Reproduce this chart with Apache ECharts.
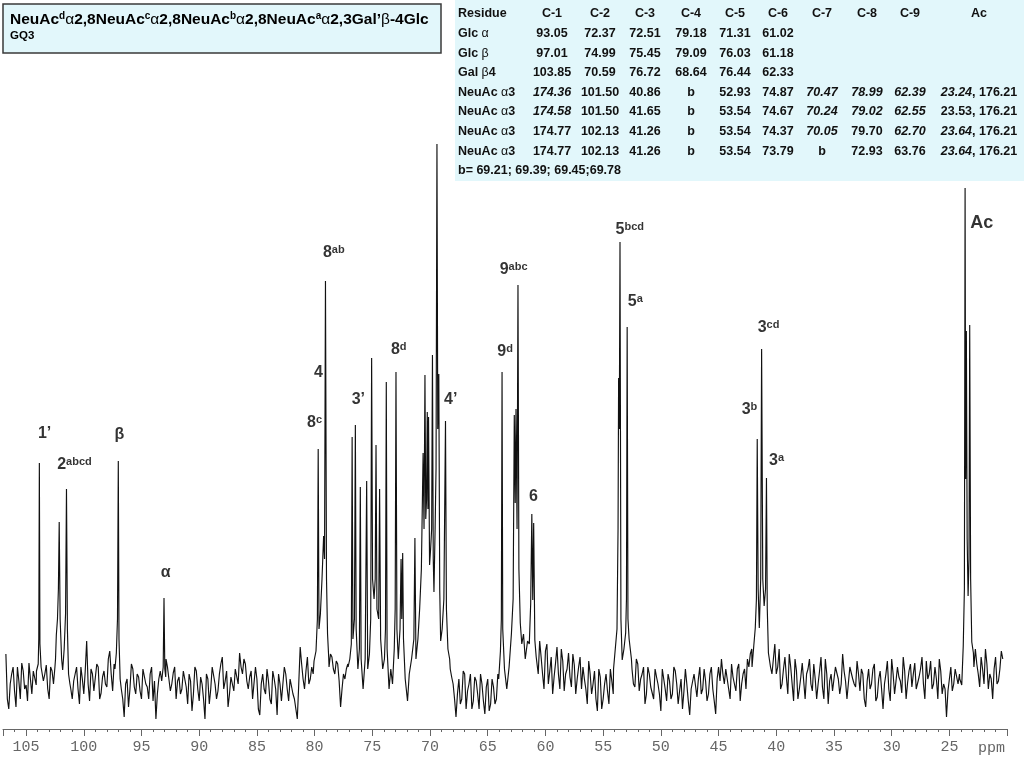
<!DOCTYPE html>
<html><head><meta charset="utf-8">
<script src="https://cdn.jsdelivr.net/npm/echarts@6/dist/echarts.min.js"></script>
<style>html,body{margin:0;padding:0;background:#fff}#c{width:1024px;height:768px}</style>
</head><body><div id="c"></div><script>
const FONT = '"Liberation Sans", Arial, sans-serif';
const MONO = '"Liberation Mono", "DejaVu Sans Mono", monospace';

const noiseStartPpm = 106.75, noiseStepPpm = 0.25;
const baselineNoise = [
  75,20,55,38,62,30,58,44,66,35,60,70,62,48,64,30,58,62,80,60,
  70,240,60,30,55,40,62,35,88,28,55,40,62,36,58,42,78,38,55,60,
  58,12,50,40,60,35,52,30,58,42,55,28,10,50,48,60,62,38,56,30,
  52,40,60,25,48,35,58,28,45,10,50,40,62,30,55,72,48,22,52,38,
  60,76,55,65,40,58,30,50,14,55,35,48,25,50,14,45,30,55,28,48,
  30,10,82,50,58,45,62,68,75,80,85,80,62,72,55,65,22,55,60,70,
  60,60,60,60,60,60,60,60,60,60,60,60,60,60,60,60,60,60,60,60,
  60,60,60,60,60,60,60,60,60,60,60,60,60,60,60,45,12,50,30,55,
  38,55,28,48,20,45,15,50,25,42,30,50,50,50,50,50,50,50,50,50,
  80,80,80,80,70,88,55,78,45,72,52,82,40,68,55,76,42,64,50,72,
  62,40,68,35,58,18,52,30,55,25,48,60,60,60,60,60,60,60,42,65,
  50,62,35,55,40,60,45,18,60,28,48,35,58,25,50,38,45,14,40,55,
  50,35,60,28,55,40,15,62,70,45,58,30,52,38,65,45,60,70,75,60,
  60,60,60,60,60,60,70,55,80,45,72,35,62,28,58,40,66,30,60,45,
  65,30,58,42,70,25,55,40,62,35,75,48,28,60,45,68,38,55,22,60,
  45,65,32,58,20,55,40,70,35,62,48,72,30,58,42,66,38,60,45,68,
  55,40,62,30,58,45,12,50,38,60,45,60,60,60,60,60,80,55,72,45,
  65,55,30,72,48,78
];
// ... and the in-between samples, every 0.25 ppm from 106.625 ppm
const midStartPpm = 106.625;
const baselineNoiseMid = [
  30,45,62,22,48,66,40,28,50,58,44,65,70,55,40,62,45,70,85,65,
  65,90,40,48,62,25,50,58,45,60,38,65,30,52,45,70,55,65,62,70,
  30,45,22,65,42,55,38,60,45,30,62,48,35,58,40,70,50,45,62,48,
  35,58,42,55,18,62,40,52,30,55,25,62,45,38,65,40,58,35,45,60,
  45,62,70,48,52,30,62,20,45,40,60,30,58,40,55,28,62,40,50,35,
  20,45,65,40,72,50,55,75,90,85,95,90,75,60,68,48,40,50,65,70,
  60,60,60,60,60,60,60,60,60,60,60,60,60,60,60,60,60,60,60,60,
  60,60,60,60,60,60,60,60,60,60,60,60,60,60,52,30,35,25,58,20,
  45,20,52,35,55,28,42,18,50,25,55,50,50,50,50,50,50,50,50,50,
  80,80,80,80,55,72,40,85,58,35,66,55,80,38,60,52,75,35,62,40,
  50,25,55,45,30,60,20,45,38,60,35,60,60,60,60,60,60,45,70,38,
  55,25,62,42,30,52,35,60,40,55,30,62,45,38,20,60,28,40,55,32,
  62,40,48,35,62,28,50,48,55,60,40,65,45,60,28,55,40,62,80,60,
  60,60,60,60,60,55,85,62,40,60,52,75,45,70,30,52,48,55,70,38,
  50,45,72,30,55,48,38,62,50,45,58,30,62,50,42,55,60,30,48,40,
  60,28,50,40,45,68,28,55,48,52,36,58,46,65,55,40,52,72,30,50,
  68,45,50,70,35,40,38,62,45,62,55,60,60,60,60,62,65,42,60,80,
  40,50,60,45,60,70
];
// ---- resonance groups [ppm, intensity]
const peak1p = [[104.10,58],[103.95,65],[103.90,90],[103.85,266],[103.80,85],[103.70,62],[103.60,55]];
const peak2 = [[102.45,70],[102.38,94],[102.28,110],[102.20,140],[102.13,207],[102.05,110],[101.92,70],[101.83,59],[101.70,80],[101.58,115],[101.50,240],[101.42,100],[101.32,55],[101.20,45]];
const peakBeta = [[97.30,60],[97.18,76],[97.08,110],[97.01,268],[96.95,90],[96.85,50],[96.75,40]];
const peakAlpha = [[93.20,48],[93.12,62],[93.05,131],[92.98,60],[92.90,52]];
const peak8 = [[80.05,68],[79.88,78],[79.76,110],[79.69,280],[79.62,100],[79.50,115],[79.36,150],[79.22,193],[79.14,170],[79.06,448],[78.97,150],[78.88,95],[78.78,72]];
const peakGroup70 = [[77.10,62],[76.95,70],[76.82,85],[76.75,292],[76.68,90],[76.55,110],[76.47,304],[76.40,100],[76.25,60],[76.12,80],[76.04,242],[75.97,70],[75.80,40],[75.62,70],[75.49,248],[75.40,60],[75.25,75],[75.14,110],[75.06,371],[74.98,150],[74.85,130],[74.75,150],[74.68,284],[74.60,120],[74.45,110],[74.37,240],[74.28,90],[74.10,60],[73.95,70],[73.86,100],[73.79,347],[73.72,80],[73.55,40],[73.40,60],[73.25,45],[73.10,80],[73.02,120],[72.95,357],[72.87,100],[72.75,70],[72.60,100],[72.51,170],[72.45,110],[72.37,176],[72.30,90],[72.15,50],[71.95,28],[71.80,55],[71.60,70],[71.40,90],[71.31,191],[71.22,70],[71.05,90],[70.90,120],[70.75,160],[70.66,230],[70.60,276],[70.52,200],[70.44,354],[70.37,210],[70.30,230],[70.24,317],[70.18,220],[70.13,312],[70.04,164],[69.95,180],[69.86,200],[69.79,374],[69.72,170],[69.66,137],[69.56,200],[69.48,260],[69.40,585],[69.33,300],[69.24,355],[69.16,140],[69.08,88],[68.95,100],[68.80,130],[68.66,308],[68.58,120],[68.45,80],[68.30,70]];
const peak9 = [[64.05,50],[63.90,78],[63.82,110],[63.76,357],[63.70,100],[63.55,60],[63.35,40],[63.15,62],[62.95,95],[62.80,130],[62.70,314],[62.62,226],[62.55,320],[62.46,200],[62.38,444],[62.30,160],[62.18,106],[62.05,85],[61.90,95],[61.75,70],[61.55,88],[61.40,85],[61.28,125],[61.18,215],[61.10,129],[61.02,206],[60.92,89],[60.80,72]];
const peak5 = [[54.10,60],[53.95,80],[53.80,100],[53.71,200],[53.66,351],[53.60,300],[53.54,487],[53.46,110],[53.35,69],[53.20,80],[53.05,96],[52.98,130],[52.92,402],[52.85,110],[52.75,90],[52.55,70]];
const peak3 = [[42.10,62],[41.95,83],[41.82,101],[41.72,130],[41.65,290],[41.57,140],[41.47,101],[41.35,150],[41.27,380],[41.17,150],[41.05,123],[40.93,140],[40.85,251],[40.78,120],[40.68,76],[40.50,62]];
const peakAc = [[24.10,50],[23.93,44],[23.80,83],[23.70,140],[23.64,541],[23.59,250],[23.53,398],[23.46,190],[23.38,133],[23.30,170],[23.24,404],[23.16,150],[23.06,87],[22.92,76]];

// ---- peak annotations [text, superscript, ppm, intensity]
const peakLabels = [
  ['1’','',103.40,295], ['2','abcd',100.81,264], ['β','',96.92,294], ['α','',92.90,156],
  ['8','ab',78.34,476], ['4','',79.67,356], ['8','c',80.01,306], ['3’','',76.21,329],
  ['8','d',72.71,379], ['4’','',68.21,329], ['9','abc',62.76,459], ['9','d',63.50,377],
  ['6','',61.03,232], ['5','bcd',52.69,499], ['5','a',52.22,427], ['3','cd',40.67,401],
  ['3','b',42.32,319], ['3','a',39.98,268], ['Ac','',22.20,506]
];
const ppmTickLabels = [105,100,95,90,85,80,75,70,65,60,55,50,45,40,35,30,25];
const axisUnit = 'ppm';

// ---- title and table text
const titleMain = 'NeuAc^dα2,8NeuAc^cα2,8NeuAc^bα2,8NeuAc^aα2,3Gal’β-4Glc';
const titleSub = 'GQ3';
const tableHeader = ['Residue','C-1','C-2','C-3','C-4','C-5','C-6','C-7','C-8','C-9','Ac'];
const tableRows = [
  ['Glc α','93.05','72.37','72.51','79.18','71.31','61.02','','','',''],
  ['Glc β','97.01','74.99','75.45','79.09','76.03','61.18','','','',''],
  ['Gal β4','103.85','70.59','76.72','68.64','76.44','62.33','','','',''],
  ['NeuAc α3','_174.36_','101.50','40.86','b','52.93','74.87','_70.47_','_78.99_','_62.39_','_23.24_, 176.21'],
  ['NeuAc α3','_174.58_','101.50','41.65','b','53.54','74.67','_70.24_','_79.02_','_62.55_','23.53, 176.21'],
  ['NeuAc α3','174.77','102.13','41.26','b','53.54','74.37','_70.05_','79.70','_62.70_','_23.64_, 176.21'],
  ['NeuAc α3','174.77','102.13','41.26','b','53.54','73.79','b','72.93','63.76','_23.64_, 176.21']
];
const tableFootnote = 'b= 69.21; 69.39; 69.45;69.78';

// ---- build spectrum
function buildSpectrum(){
  let pts = baselineNoise.map((v,i)=>[+(noiseStartPpm - i*noiseStepPpm).toFixed(3), v])
    .concat(baselineNoiseMid.map((v,i)=>[+(midStartPpm - i*noiseStepPpm).toFixed(3), v]));
  const groups = [peak1p, peak2, peakBeta, peakAlpha, peak8, peakGroup70, peak9, peak5, peak3, peakAc];
  groups.forEach(g=>{
    const hi = g[0][0], lo = g[g.length-1][0];
    pts = pts.filter(p => p[0] > hi || p[0] < lo).concat(g);
  });
  pts.sort((a,b)=>b[0]-a[0]);
  return pts;
}

function toRich(str){
  let out='', cur='', curStyle=null, italic=false;
  const flush=()=>{ if(cur){ out+='{'+curStyle+'|'+cur+'}'; cur=''; } };
  for(let k=0;k<str.length;k++){
    const ch=str[k];
    if(ch==='_'){ italic=!italic; continue; }
    if(ch==='^'){ flush(); out+='{s|'+str[k+1]+'}'; k++; continue; }
    const st = (ch==='α'||ch==='β') ? 'g' : (italic?'i':'n');
    if(st!==curStyle){ flush(); curStyle=st; }
    cur+=ch;
  }
  flush();
  return out;
}

const tableRich = {
  n:{fontFamily:FONT,fontSize:12.5,fontWeight:'bold',fill:'#111'},
  i:{fontFamily:FONT,fontSize:12.5,fontWeight:'bold',fontStyle:'italic',fill:'#111'},
  g:{fontFamily:FONT,fontSize:12.5,fontWeight:'normal',fill:'#111'}
};
const titleRich = {
  n:{fontFamily:FONT,fontSize:15.5,fontWeight:'bold',fill:'#000',lineHeight:18},
  g:{fontFamily:FONT,fontSize:15.5,fontWeight:'normal',fill:'#000',lineHeight:18},
  s:{fontFamily:FONT,fontSize:10,fontWeight:'bold',fill:'#000',lineHeight:12,verticalAlign:'top'}
};

const colX = [458,552,600,645,691,735,778,822,867,910,979];
const rowY0 = 14, rowStep = 19.6;
const graphics = [];
graphics.push({type:'rect', silent:true, z:10, shape:{x:455,y:0,width:569,height:181}, style:{fill:'#e2f7fb'}});
function addRow(cells, y){
  cells.forEach((c,j)=>{
    if(!c) return;
    graphics.push({type:'text', silent:true, z:11, x:colX[j], y:y,
      style:{text:toRich(c), rich:tableRich, align: j===0?'left':'center', verticalAlign:'middle'}});
  });
}
addRow(tableHeader, rowY0);
tableRows.forEach((r,k)=>addRow(r, rowY0 + (k+1)*rowStep));
graphics.push({type:'text', silent:true, z:11, x:458, y:rowY0 + 8*rowStep,
  style:{text:toRich(tableFootnote), rich:tableRich, align:'left', verticalAlign:'middle'}});
// title box
graphics.push({type:'rect', silent:true, z:10, shape:{x:3,y:4,width:438,height:49}, style:{fill:'#e2f7fb', stroke:'#3a3a3a', lineWidth:1.5}});
graphics.push({type:'text', silent:true, z:11, x:10, y:20, style:{text:toRich(titleMain), rich:titleRich, align:'left', verticalAlign:'middle'}});
graphics.push({type:'text', silent:true, z:11, x:10, y:36, style:{text:titleSub, fontFamily:FONT, fontSize:11.5, fontWeight:'bold', fill:'#000', align:'left', verticalAlign:'middle'}});
// axis unit
graphics.push({type:'text', silent:true, z:11, x:978, y:748, style:{text:axisUnit, fontFamily:MONO, fontSize:15, fill:'#666', align:'left', verticalAlign:'middle'}});

const chart = echarts.init(document.getElementById('c'));
chart.setOption({
  animation:false,
  grid:{left:0.87, right:16.9, top:0, bottom:39},
  xAxis:{type:'value', inverse:true, min:20, max:107, interval:5,
    axisLine:{show:true, onZero:false, lineStyle:{color:'#666', width:1}},
    axisTick:{show:true, length:7, lineStyle:{color:'#666'}},
    minorTick:{show:true, splitNumber:5, length:3, lineStyle:{color:'#666'}},
    splitLine:{show:false}, minorSplitLine:{show:false},
    axisLabel:{fontFamily:MONO, fontSize:15, color:'#666', margin:11,
      formatter: v => ppmTickLabels.includes(v) ? String(v) : ''}
  },
  yAxis:{type:'value', min:0, max:729, show:false},
  series:[
    {type:'line', data:buildSpectrum(), symbol:'none', showSymbol:false, silent:true, z:3,
      lineStyle:{color:'#111', width:1.15}},
    {type:'scatter', silent:true, z:5, symbolSize:1, itemStyle:{color:'rgba(0,0,0,0)'},
      data: peakLabels.map(p=>({value:[p[2],p[3]],
        label:{formatter: p[1] ? '{b|'+p[0]+'}{s|'+p[1]+'}' : (p[0]==='Ac' ? '{a|Ac}' : '{b|'+p[0]+'}')}})),
      label:{show:true, position:'inside',
        rich:{
          b:{fontFamily:FONT,fontSize:16,fontWeight:'bold',color:'#000',lineHeight:18},
          a:{fontFamily:FONT,fontSize:18,fontWeight:'bold',color:'#000',lineHeight:20},
          s:{fontFamily:FONT,fontSize:11,fontWeight:'bold',color:'#000',lineHeight:11,verticalAlign:'top'}
        }}
    }
  ],
  graphic:graphics
});
</script></body></html>
